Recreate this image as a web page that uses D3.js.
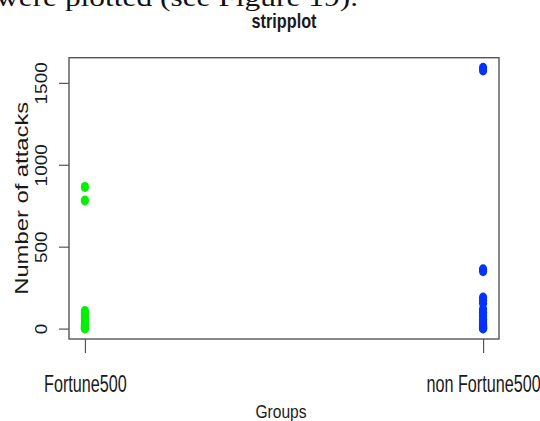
<!DOCTYPE html>
<html>
<head>
<meta charset="utf-8">
<script src="https://cdn.jsdelivr.net/npm/d3@7"></script>
<style>
  body { margin: 0; background: #fff; }
  svg { display: block; }
  text { font-family: "Liberation Sans", Arial, sans-serif; fill: #1a1a1a; }
</style>
</head>
<body>
<div id="chart"></div>
<script>
// groups on the x axis
var groups = ["Fortune500", "non Fortune500"];
var groupColors = ["rgb(0,240,0)", "rgb(4,51,255)"];

// attack counts (overplotted, no jitter)
var fortune500 = [865, 782, 107, 95, 80, 66, 52, 40, 30, 20, 12, 5, 2, 0];
var nonFortune500 = [1592, 1575, 362, 350, 190, 172, 155, 118, 100, 85, 70, 55, 42, 30, 20, 12, 6, 2, 0];

var yTicks = [0, 500, 1000, 1500];
var caption = "were plotted (see Figure 19).";

var W = 540, H = 421;
var svg = d3.select("#chart").append("svg")
  .attr("width", W).attr("height", H);

// R style 4% padding on both axes
var x = d3.scaleLinear().domain([0.96, 2.04]).range([69, 499]);
var y = d3.scaleLinear().domain([-63.6, 1653.6]).range([339, 57.7]);

// cut off line of the surrounding document (it is clipped at the top in the source too)
svg.append("text")
  .attr("x", -4).attr("y", 6)
  .attr("textLength", 362).attr("lengthAdjust", "spacingAndGlyphs")
  .style("font-family", "'Liberation Serif', serif")
  .style("font-size", "26px")
  .style("fill", "#111")
  .text(caption);

// title, squashed a bit like the source
svg.append("text")
  .attr("transform", "translate(284,28.3) scale(1,1.2)")
  .attr("text-anchor", "middle")
  .style("font-weight", "bold")
  .style("font-size", "16.25px")
  .text("stripplot");

// points
var series = [fortune500, nonFortune500];
var pts = [];
series.forEach(function(vals, i) {
  vals.forEach(function(v) { pts.push({g: i + 1, v: v, c: groupColors[i]}); });
});
svg.append("g").selectAll("ellipse").data(pts).enter().append("ellipse")
  .attr("cx", function(d) { return x(d.g); })
  .attr("cy", function(d) { return y(d.v); })
  .attr("rx", 4.1).attr("ry", 5)
  .style("fill", function(d) { return d.c; });

// y axis
var yAxis = svg.append("g").attr("transform", "translate(69,0)")
  .call(d3.axisLeft(y).tickValues(yTicks).tickSize(10).tickSizeOuter(0)
    .tickFormat(d3.format("d")));
yAxis.select(".domain").remove();
yAxis.selectAll("line").style("stroke", "#555").style("stroke-width", 1.2);
yAxis.selectAll("text")
  .attr("x", null).attr("dy", null)
  .attr("transform", "translate(-22,0) rotate(-90) scale(1,0.91)")
  .attr("text-anchor", "middle")
  .style("font-size", "19px")
  .style("font-family", "'Liberation Sans', Arial, sans-serif")
  .style("fill", "#1a1a1a");

// x axis
var xAxis = svg.append("g").attr("transform", "translate(0,339)")
  .call(d3.axisBottom(x).tickValues([1, 2]).tickSize(14).tickSizeOuter(0)
    .tickFormat(function(d) { return groups[d - 1]; }));
xAxis.select(".domain").remove();
xAxis.selectAll("line").style("stroke", "#555").style("stroke-width", 1.2);
xAxis.selectAll("text")
  .attr("y", null).attr("dy", null)
  .attr("transform", "translate(0,52.5) scale(1,1.5)")
  .attr("text-anchor", "middle")
  .style("font-size", "16.2px")
  .style("font-family", "'Liberation Sans', Arial, sans-serif")
  .style("fill", "#1a1a1a");

// box
svg.append("rect")
  .attr("x", x.range()[0]).attr("y", y.range()[1])
  .attr("width", x.range()[1] - x.range()[0])
  .attr("height", y.range()[0] - y.range()[1])
  .style("fill", "none").style("stroke", "#555").style("stroke-width", 1.4);

// axis titles
svg.append("text")
  .attr("transform", "translate(281,417.7) scale(1,1.2)")
  .attr("text-anchor", "middle")
  .style("font-size", "15.6px")
  .text("Groups");

svg.append("text")
  .attr("transform", "translate(28.3,198.3) rotate(-90) scale(1,0.78)")
  .attr("text-anchor", "middle")
  .style("font-size", "23.8px")
  .text("Number of attacks");
</script>
</body>
</html>
